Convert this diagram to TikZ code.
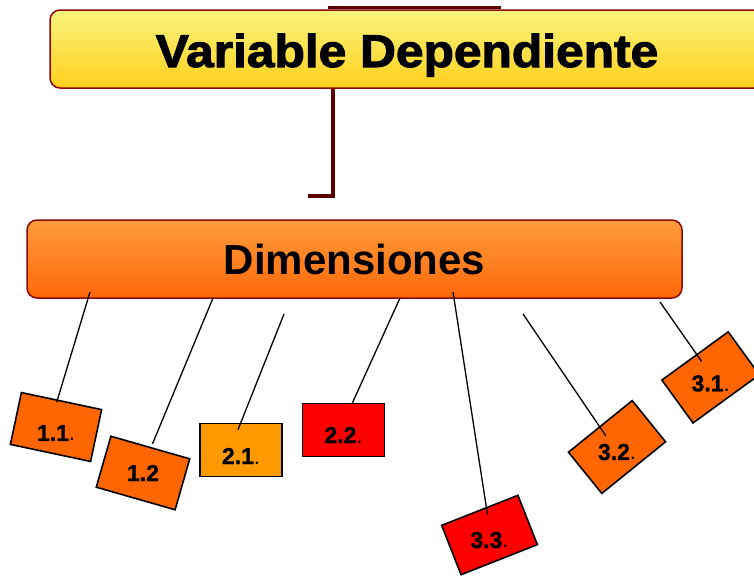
\documentclass[tikz,border=0pt]{standalone}
\usepackage{fontspec}
\setmainfont{Liberation Sans}
\newfontfamily\heavyfont[FakeBold=2.2]{Liberation Sans Bold}
\newfontfamily\itemfont[FakeBold=1.2]{Liberation Sans Bold}
\usetikzlibrary{calc}
\definecolor{dred}{HTML}{8B0A0A}
\definecolor{darkline}{HTML}{5A0000}
\definecolor{ytop}{HTML}{FAF47C}
\definecolor{ybot}{HTML}{FFD01C}
\definecolor{otop}{HTML}{FF9C3C}
\definecolor{obot}{HTML}{FF6808}
\definecolor{orA}{HTML}{FF6600}
\definecolor{orB}{HTML}{FF9900}
\definecolor{rdA}{HTML}{FF0000}
\tikzset{
  topbox/.style={draw=dred, line width=1.5pt, rounded corners=10pt, top color=ytop, bottom color=ybot, inner sep=0pt},
  dimbox/.style={draw=dred, line width=1.5pt, rounded corners=10pt, top color=otop, bottom color=obot, inner sep=0pt, minimum width=655pt, minimum height=78pt},
  item/.style={draw=black, line width=1.6pt, inner sep=0pt, minimum width=82pt, minimum height=53pt},
  itemtext/.style={inner sep=0pt, font=\fontsize{23}{25}\selectfont\itemfont},
  conn/.style={draw=black, line width=1.3pt},
  dconn/.style={draw=darkline, line width=3.5pt},
}
\newcommand{\lbl}[1]{#1{\fontsize{22}{24}\selectfont\rmfamily .}}
\begin{document}
\begin{tikzpicture}[x=1pt,y=-1pt]
\useasboundingbox (0,0) rectangle (754,576);
\clip (0,0) rectangle (754,576);
\fill[white] (0,0) rectangle (754,576);

% top node
\node[topbox, minimum width=714pt, minimum height=78pt] (vd) at (407,49) {};
\node[inner sep=0pt, anchor=base] (vdtext) at (407,67)
  {\scalebox{1.08}[1]{\fontsize{46}{50}\selectfont\heavyfont Variable Dependiente}};
\coordinate (t1) at (328,7.5);
\coordinate (t2) at (501,7.5);
\draw[draw=darkline, line width=2.5pt] (t1) -- (t2);

% connector from top node
\coordinate (bend) at (333,196);
\coordinate (tail) at (308,196);
\draw[dconn] (vd.south -| bend) -- (bend) -- (tail);

% dimensions node
\node[dimbox] (dim) at (354.5,259)
  {\fontsize{42}{46}\selectfont\bfseries Dimensiones};

% items (boxes)
\node[item, fill=orA, rotate=-12] (b11) at (56,427) {};
\node[item, fill=orA, rotate=-16] (b12) at (143,473) {};
\node[item, fill=orB] (b21) at (241,450) {};
\node[item, fill=rdA] (b22) at (343.5,430) {};
\node[item, fill=rdA, rotate=21.5] (b33) at (489.5,535) {};
\node[item, fill=orA, rotate=39] (b32) at (617,447) {};
\node[item, fill=orA, rotate=36] (b31) at (710.6,377.4) {};

% item texts (upright)
\node[itemtext] (l11) at ([yshift=-6pt]b11.center) {\lbl{1.1}};
\node[itemtext] (l12) at ([yshift=0pt]b12.center) {1.2};
\node[itemtext] (l21) at ([yshift=-6pt]b21.center) {\lbl{2.1}};
\node[itemtext] (l22) at ([yshift=-5pt]b22.center) {\lbl{2.2}};
\node[itemtext] (l33) at ([yshift=-5pt]b33.center) {\lbl{3.3}};
\node[itemtext] (l32) at ([yshift=-5pt]b32.center) {\lbl{3.2}};
\node[itemtext] (l31) at ([yshift=-6pt]b31.center) {\lbl{3.1}};

% connector start points
\coordinate (s11) at (90,292);
\coordinate (s12) at (213,298);
\coordinate (s21) at (284,314);
\coordinate (s22) at (400,298);
\coordinate (s33) at (453,292);
\coordinate (s32) at (523,314);
\coordinate (s31) at (660,302);

\draw[conn] (s11) -- ([xshift=-5pt,yshift=-2pt]b11.north);
\draw[conn] (s12) -- ([xshift=2pt,yshift=3pt]b12.north);
\draw[conn] (s21) -- ([xshift=-3pt,yshift=-7pt]b21.north);
\draw[conn] (s22) -- ([xshift=9pt]b22.north);
\draw[conn] (s33) -- ([xshift=8pt,yshift=-5pt]b33.north);
\draw[conn] (s32) -- ([xshift=6pt,yshift=-10pt]b32.north);
\draw[conn] (s31) -- ([xshift=7pt,yshift=-6pt]b31.north);
\end{tikzpicture}
\end{document}
